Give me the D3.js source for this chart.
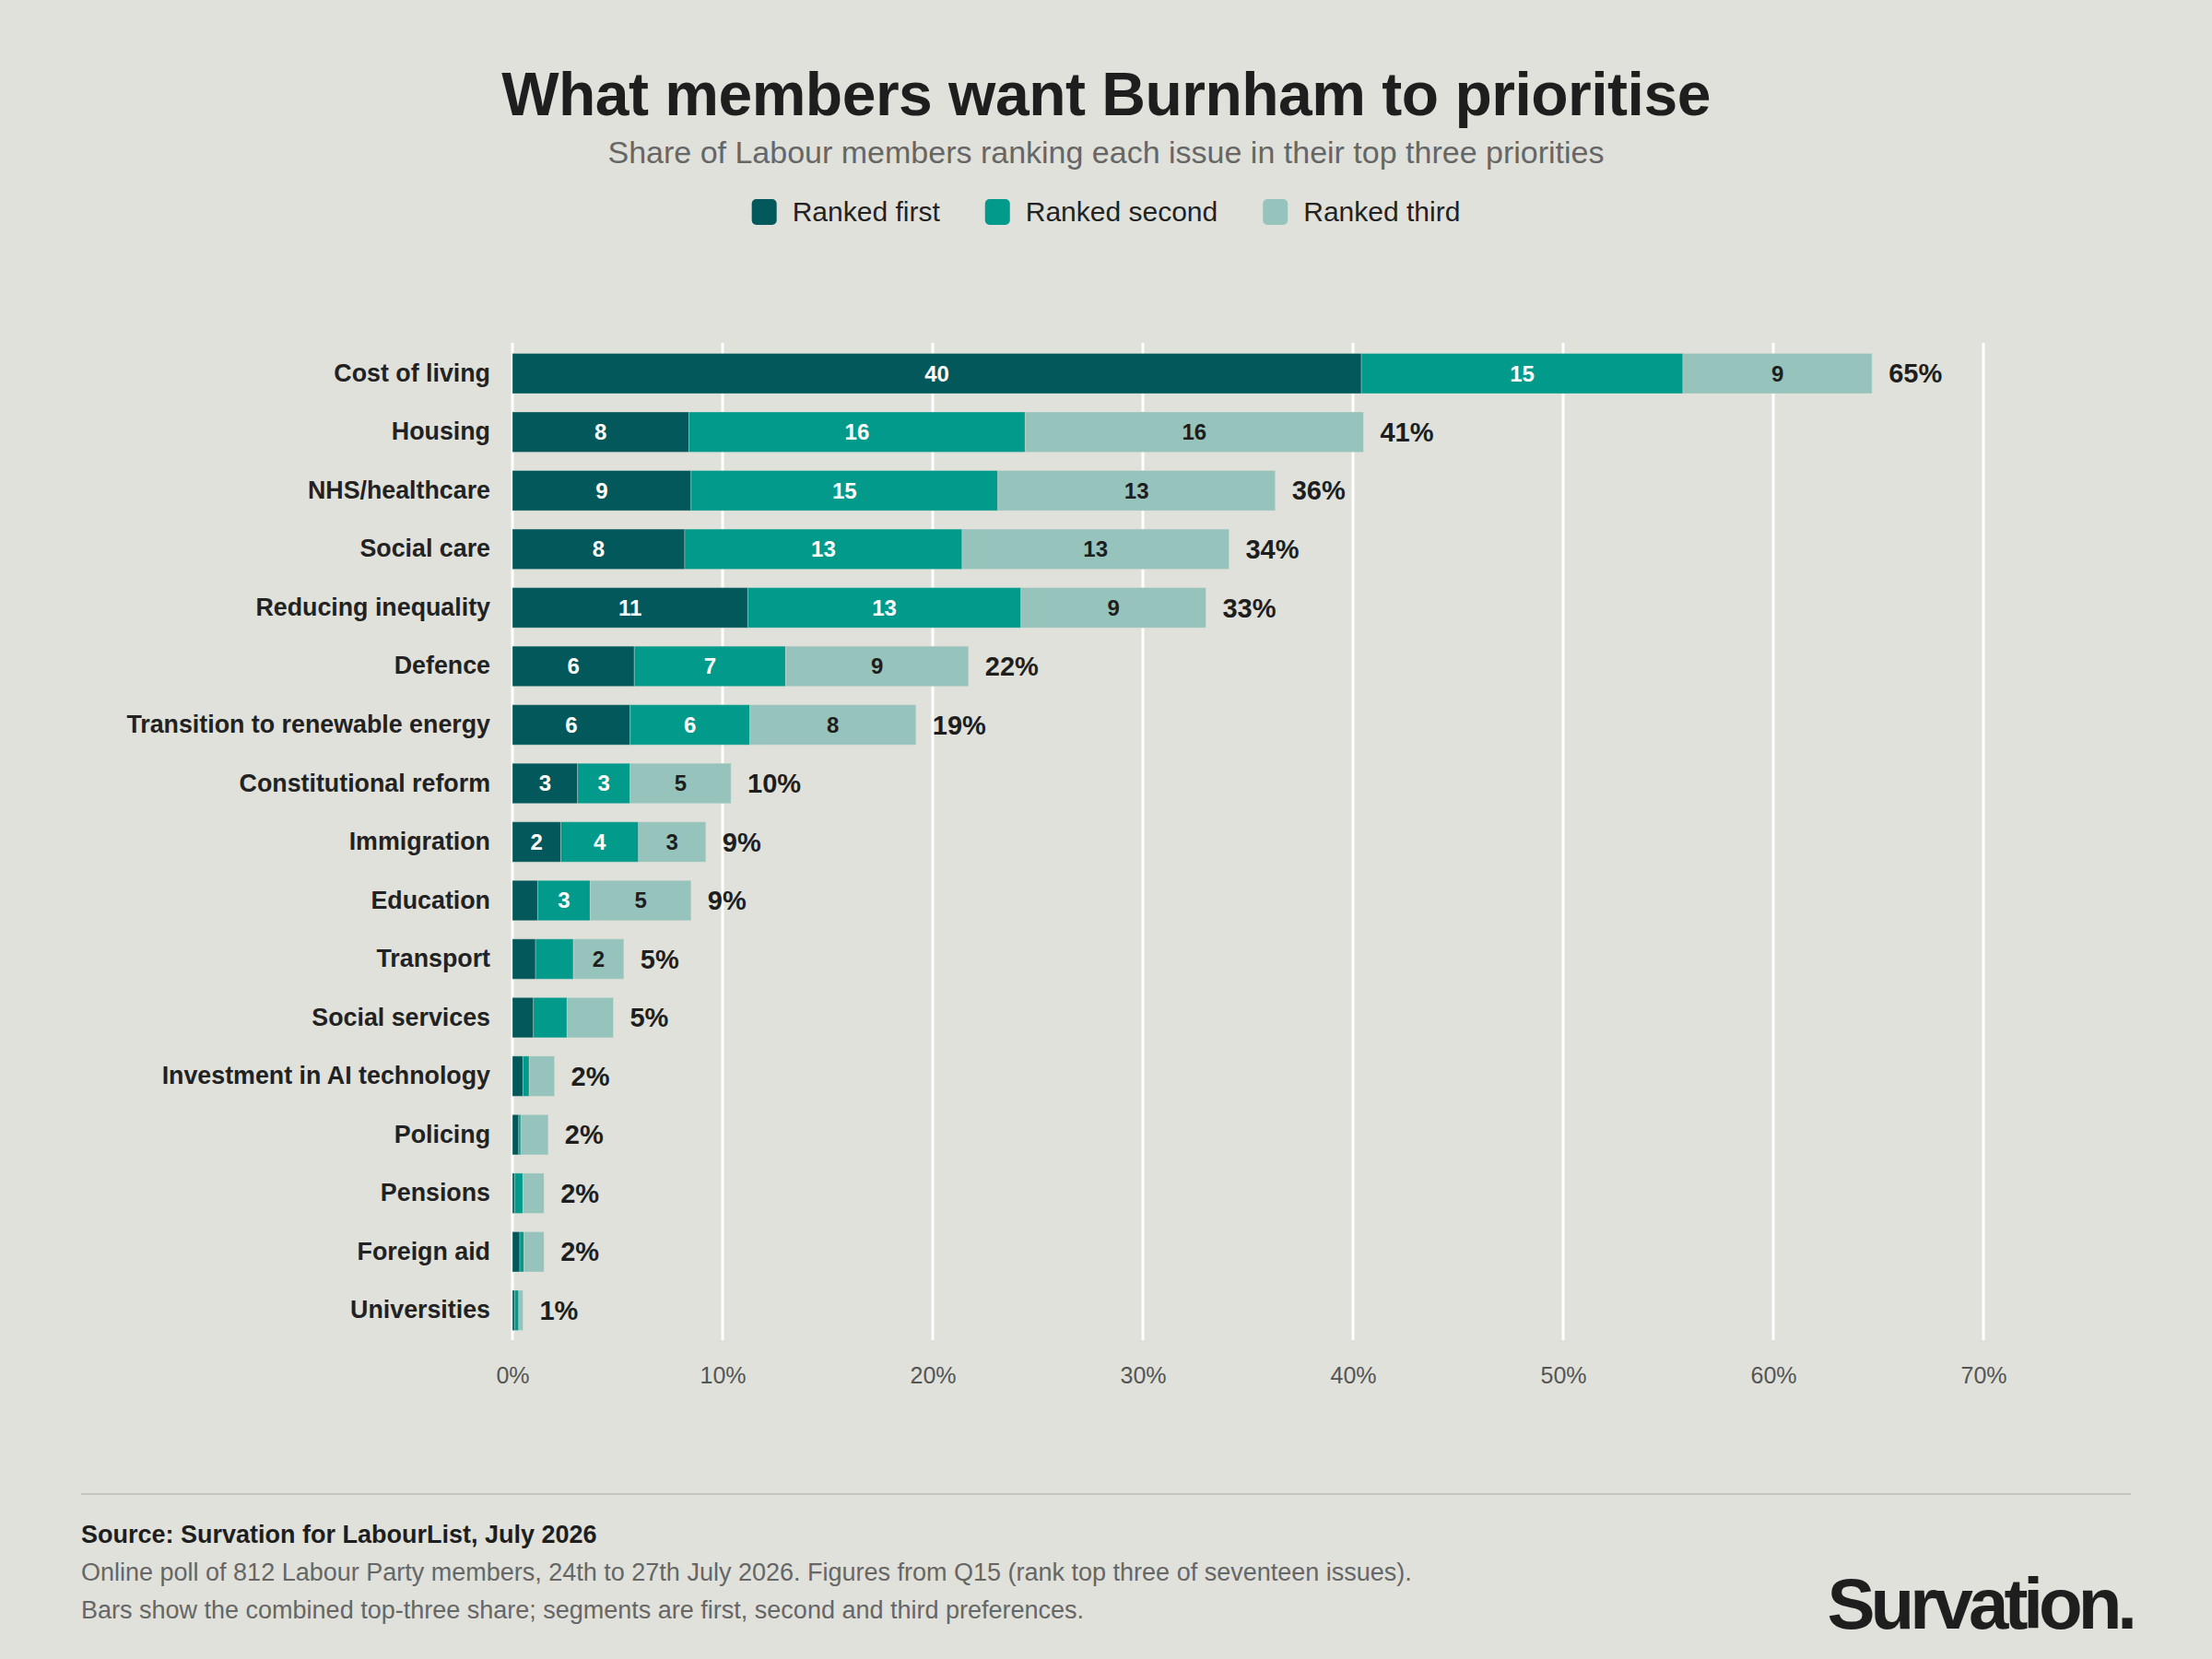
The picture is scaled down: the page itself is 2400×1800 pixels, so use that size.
<!DOCTYPE html>
<html>
<head>
<meta charset="utf-8">
<script src="https://cdn.jsdelivr.net/npm/d3@7"></script>
<style>
  body { margin: 0; background: #e0e1da; }
  svg { display: block; font-family: "Liberation Sans", Arial, sans-serif; }
</style>
</head>
<body>
<div id="chart"></div>
<script>
// issues, top to bottom
var issues = ['Cost of living', 'Housing', 'NHS/healthcare', 'Social care', 'Reducing inequality',
  'Defence', 'Transition to renewable energy', 'Constitutional reform', 'Immigration', 'Education',
  'Transport', 'Social services', 'Investment in AI technology', 'Policing', 'Pensions',
  'Foreign aid', 'Universities'];

// share ranking each issue first / second / third (%)
var rankedFirst  = [40.4, 8.4, 8.5, 8.2, 11.2, 5.8, 5.6, 3.1, 2.3, 1.2, 1.1, 1.0, 0.5, 0.3, 0.1, 0.35, 0.1];
var rankedSecond = [15.3, 16.0, 14.6, 13.2, 13.0, 7.2, 5.7, 2.5, 3.7, 2.5, 1.8, 1.6, 0.3, 0.1, 0.4, 0.2, 0.2];
var rankedThird  = [9.0, 16.1, 13.2, 12.7, 8.8, 8.7, 7.9, 4.8, 3.2, 4.8, 2.4, 2.2, 1.2, 1.3, 1.0, 0.95, 0.2];

// combined top-three share as labelled
var totals = [65, 41, 36, 34, 33, 22, 19, 10, 9, 9, 5, 5, 2, 2, 2, 2, 1];

var seriesNames = ['Ranked first', 'Ranked second', 'Ranked third'];
var xTicks = [0, 10, 20, 30, 40, 50, 60, 70];

var W = 2400, H = 1800;
var bg = '#e0e1da';
var colors = d3.scaleOrdinal()
  .domain(seriesNames)
  .range(['#02585a', '#029a8b', '#96c3bb']);
var labelColors = d3.scaleOrdinal()
  .domain(seriesNames)
  .range(['#ffffff', '#ffffff', '#1e1e1e']);

var svg = d3.select('#chart')
  .append('svg')
  .attr('width', W)
  .attr('height', H)
  ;

svg.append('rect')
  .attr('width', W)
  .attr('height', H)
  .attr('fill', bg)
  ;

// title block
svg.append('text')
  .attr('x', W / 2)
  .attr('y', 125)
  .attr('text-anchor', 'middle')
  .attr('font-size', 66)
  .attr('font-weight', 700)
  .attr('letter-spacing', -0.5)
  .attr('fill', '#1e1e1e')
  .text('What members want Burnham to prioritise')
  ;

svg.append('text')
  .attr('x', W / 2)
  .attr('y', 177)
  .attr('text-anchor', 'middle')
  .attr('font-size', 34)
  .attr('fill', '#666666')
  .text('Share of Labour members ranking each issue in their top three priorities')
  ;

// legend, centred
var legend = svg.append('g');
var lx = 0;
seriesNames.forEach(function(name) {
  var item = legend.append('g').attr('transform', 'translate(' + lx + ',0)');
  item.append('rect')
    .attr('x', 0)
    .attr('y', 216)
    .attr('width', 27)
    .attr('height', 28)
    .attr('rx', 5)
    .attr('fill', colors(name));
  var t = item.append('text')
    .attr('x', 44)
    .attr('y', 240)
    .attr('font-size', 30)
    .attr('fill', '#222222')
    .text(name);
  lx += 44 + t.node().getComputedTextLength() + 49;
});
var legendWidth = lx - 49;
legend.attr('transform', 'translate(' + (W / 2 - legendWidth / 2) + ',0)');

// scales
var x = d3.scaleLinear()
  .domain([0, 70])
  .range([556, 2152])
  ;

var y = d3.scaleBand()
  .domain(issues)
  .range([373, 1454])
  .paddingInner(0.315)
  .paddingOuter(0.165)
  ;

// gridlines
svg.append('g')
  .selectAll('line')
  .data(xTicks)
  .join('line')
  .attr('x1', function(d) { return x(d); })
  .attr('x2', function(d) { return x(d); })
  .attr('y1', 372)
  .attr('y2', 1454)
  .attr('stroke', '#ffffff')
  .attr('stroke-width', 3)
  ;

// x axis labels
var xAxis = d3.axisBottom(x)
  .tickValues(xTicks)
  .tickFormat(function(d) { return d + '%'; })
  .tickSize(0)
  .tickPadding(0)
  ;

var xg = svg.append('g')
  .attr('transform', 'translate(0,1483)')
  .call(xAxis)
  ;
xg.select('.domain').remove();
xg.selectAll('text')
  .attr('dy', '0.71em')
  .attr('font-size', 25)
  .attr('font-family', '"Liberation Sans", Arial, sans-serif')
  .attr('fill', '#555555')
  ;

// category labels
var yAxis = d3.axisLeft(y)
  .tickSize(0)
  .tickPadding(0)
  ;

var yg = svg.append('g')
  .attr('transform', 'translate(532,0)')
  .call(yAxis)
  ;
yg.select('.domain').remove();
yg.selectAll('text')
  .attr('font-size', 26.8)
  .attr('font-weight', 700)
  .attr('font-family', '"Liberation Sans", Arial, sans-serif')
  .attr('fill', '#222222')
  ;

// stacked bars
var rows = issues.map(function(issue, i) {
  return {
    issue: issue,
    'Ranked first': rankedFirst[i],
    'Ranked second': rankedSecond[i],
    'Ranked third': rankedThird[i],
    total: totals[i]
  };
});

var stacked = d3.stack().keys(seriesNames)(rows);

var layers = svg.append('g')
  .selectAll('g')
  .data(stacked)
  .join('g')
  .attr('fill', function(d) { return colors(d.key); })
  ;

layers.selectAll('rect')
  .data(function(d) { return d; })
  .join('rect')
  .attr('x', function(d) { return x(d[0]); })
  .attr('y', function(d) { return y(d.data.issue); })
  .attr('width', function(d) { return x(d[1]) - x(d[0]); })
  .attr('height', y.bandwidth())
  .attr('stroke', bg)
  .attr('stroke-width', 1)
  .attr('stroke-opacity', 0.35)
  ;

// segment values (small segments left unlabelled)
stacked.forEach(function(layer) {
  svg.append('g')
    .selectAll('text')
    .data(layer.filter(function(d) { return d.data[layer.key] >= 2.25; }))
    .join('text')
    .attr('x', function(d) { return (x(d[0]) + x(d[1])) / 2; })
    .attr('y', function(d) { return y(d.data.issue) + y.bandwidth() / 2; })
    .attr('dy', '0.35em')
    .attr('text-anchor', 'middle')
    .attr('font-size', 24)
    .attr('font-weight', 700)
    .attr('fill', labelColors(layer.key))
    .text(function(d) { return Math.round(d.data[layer.key]); })
    ;
});

// totals
svg.append('g')
  .selectAll('text')
  .data(rows)
  .join('text')
  .attr('x', function(d) {
    return x(d['Ranked first'] + d['Ranked second'] + d['Ranked third']) + 18;
  })
  .attr('y', function(d) { return y(d.issue) + y.bandwidth() / 2; })
  .attr('dy', '0.35em')
  .attr('font-size', 29)
  .attr('font-weight', 700)
  .attr('fill', '#1e1e1e')
  .text(function(d) { return d.total + '%'; })
  ;

// footer
svg.append('line')
  .attr('x1', 88)
  .attr('x2', 2312)
  .attr('y1', 1621)
  .attr('y2', 1621)
  .attr('stroke', '#c4c5be')
  .attr('stroke-width', 2)
  ;

svg.append('text')
  .attr('x', 88)
  .attr('y', 1674)
  .attr('font-size', 27)
  .attr('font-weight', 700)
  .attr('fill', '#1e1e1e')
  .text('Source: Survation for LabourList, July 2026')
  ;

var notes = [
  'Online poll of 812 Labour Party members, 24th to 27th July 2026. Figures from Q15 (rank top three of seventeen issues).',
  'Bars show the combined top-three share; segments are first, second and third preferences.'
];

svg.append('g')
  .selectAll('text')
  .data(notes)
  .join('text')
  .attr('x', 88)
  .attr('y', function(d, i) { return 1715 + i * 41; })
  .attr('font-size', 27)
  .attr('fill', '#666666')
  .text(function(d) { return d; })
  ;

svg.append('text')
  .attr('x', 2314)
  .attr('y', 1767)
  .attr('text-anchor', 'end')
  .attr('font-size', 78)
  .attr('font-weight', 700)
  .attr('letter-spacing', -5)
  .attr('fill', '#1e1e1e')
  .text('Survation.')
  ;
</script>
</body>
</html>
